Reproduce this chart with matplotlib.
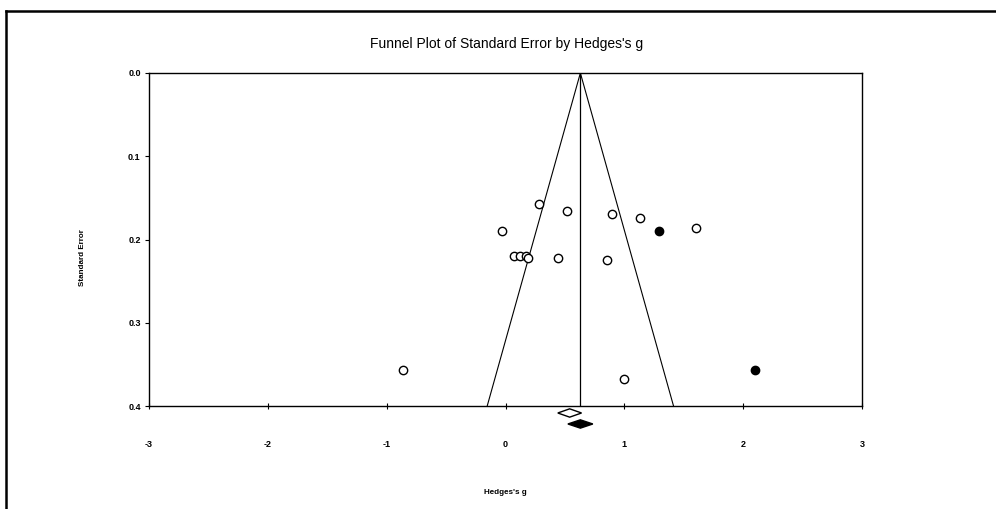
import matplotlib
matplotlib.use('Agg')
import matplotlib.pyplot as plt
from matplotlib.lines import Line2D
from matplotlib.patches import Polygon

# study effects (Hedges's g) and standard errors
g_open = [0.28, 0.52, 0.90, 1.13, -0.03, 1.60, 0.07, 0.12, 0.17, 0.19, 0.44, 0.85, -0.86, 1.00]
se_open = [0.157, 0.166, 0.169, 0.174, 0.190, 0.186, 0.220, 0.220, 0.220, 0.222, 0.222, 0.225, 0.357, 0.368]
# imputed studies (filled)
g_filled = [1.29, 2.10]
se_filled = [0.190, 0.357]

mean_observed = 0.54
mean_adjusted = 0.63
half_ci_observed = 0.10
half_ci_adjusted = 0.105
se_max = 0.4

x_ticks = [-3, -2, -1, 0, 1, 2, 3]
y_ticks = [0.0, 0.1, 0.2, 0.3, 0.4]

font = ['Liberation Sans Narrow', 'Liberation Sans', 'DejaVu Sans']

fig = plt.figure(figsize=(9.96, 5.09), dpi=100)
ax = fig.add_axes([149 / 996, 1 - 406 / 509, 713 / 996, 333 / 509])

# funnel
ax.plot([mean_adjusted - 1.96 * se_max, mean_adjusted, mean_adjusted + 1.96 * se_max],
        [se_max, 0, se_max], color='black', lw=0.8)
ax.plot([mean_adjusted, mean_adjusted], [0, se_max], color='black', lw=0.9)

ax.plot(g_open, se_open, 'o', mfc='white', mec='black', ms=6, mew=1.0)
ax.plot(g_filled, se_filled, 'o', mfc='black', mec='black', ms=6, mew=1.0)

# summary diamonds below axis
d1 = Polygon([[mean_observed - half_ci_observed, 0.4084], [mean_observed, 0.4034],
              [mean_observed + half_ci_observed, 0.4084], [mean_observed, 0.4134]],
             closed=True, fc='white', ec='black', lw=1.0, clip_on=False)
d2 = Polygon([[mean_adjusted - half_ci_adjusted, 0.4216], [mean_adjusted, 0.4166],
              [mean_adjusted + half_ci_adjusted, 0.4216], [mean_adjusted, 0.4266]],
             closed=True, fc='black', ec='black', lw=1.0, clip_on=False)
ax.add_patch(d1)
ax.add_patch(d2)

ax.set_xlim(-3, 3)
ax.set_ylim(0.4, 0.0)
ax.set_xticks(x_ticks)
ax.set_yticks(y_ticks)
ax.set_xticklabels([str(t) for t in x_ticks], fontfamily=font, fontweight='bold', fontsize=6.5)
ax.set_yticklabels(['%.1f' % t for t in y_ticks], fontfamily=font, fontweight='bold', fontsize=6.5)
ax.tick_params(axis='x', direction='inout', length=5, width=0.8, pad=22)
ax.tick_params(axis='y', direction='out', length=3, width=0.8, pad=3)
for s in ax.spines.values():
    s.set_linewidth(1.0)

fig.text(507 / 996, 1 - 44 / 509, "Funnel Plot of Standard Error by Hedges's g",
         ha='center', va='center', fontfamily=font, fontsize=10)
fig.text(505 / 996, 1 - 492 / 509, "Hedges's g", ha='center', va='center',
         fontfamily=font, fontweight='bold', fontsize=5.8)
fig.text(83 / 996, 1 - 258 / 509, "Standard Error", ha='center', va='center',
         rotation=90, fontfamily=font, fontweight='bold', fontsize=5.8)

# page frame (top and left edges only)
fig.add_artist(Line2D([6 / 996, 1], [1 - 10.5 / 509, 1 - 10.5 / 509], color='black', lw=1.8))
fig.add_artist(Line2D([6 / 996, 6 / 996], [0, 1 - 10.5 / 509], color='black', lw=1.8))

fig.savefig('out.png', dpi=100)
